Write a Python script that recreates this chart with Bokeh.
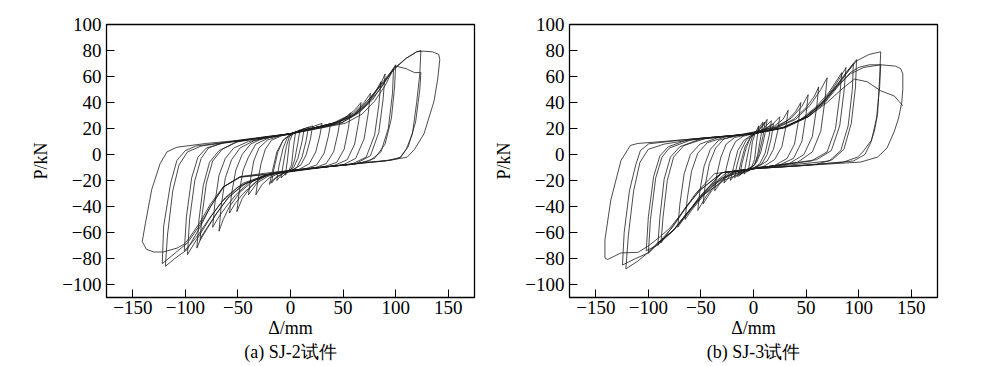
from bokeh.plotting import figure
from bokeh.layouts import row
from bokeh.models import Range1d, FixedTicker
from bokeh.embed import file_html
from bokeh.resources import INLINE

x_ticks = [-150, -100, -50, 0, 50, 100, 150]
y_ticks = [-100, -80, -60, -40, -20, 0, 20, 40, 60, 80, 100]
x_label = "Δ/mm"
y_label = "P/kN"
captions = ["(a) SJ-2试件", "(b) SJ-3试件"]

# SJ-2 hysteresis loops, each a list of (displacement mm, load kN) points
sj2_loops = [
    [(-5, -16), (-3, -5), (-1, 10), (2, 16), (5, 18), (3, 7), (1, -8), (-2, -13), (-5, -16)],
    [(-9, -18), (-7, -8), (-4, 6), (-1, 14), (4, 17), (9, 19), (7, 9), (4, -4), (1, -11), (-3, -13), (-9, -18)],
    [(-13, -20), (-11, -9), (-7, 5), (-3, 13), (3, 16), (8, 18), (13, 20), (11, 10), (7, -3), (3, -10), (-2, -12.5), (-8, -15), (-13, -20)],
    [(-18, -22), (-16, -12), (-12, 2), (-7, 11), (0, 15.5), (8, 18), (17, 21), (15, 11), (11, -2), (6, -10), (0, -12.5), (-8, -15), (-14, -18), (-18, -22)],
    [(-20, -23), (-17, -12), (-13, 2), (-7, 11), (0, 15.5), (10, 19), (21, 22), (19, 12), (15, 0), (10, -8), (2, -12), (-6, -14), (-13, -17), (-17, -20), (-19, -21), (-20, -23)],
    [(-33, -31), (-31, -20), (-28, -7), (-24, 4), (-18, 11), (-8, 14.5), (0, 16), (10, 18), (20, 21), (30, 24), (28, 15), (24, 2), (18, -7), (8, -11.5), (0, -12.3), (-10, -14), (-20, -18), (-27, -23), (-33, -31)],
    [(-40, -31), (-38, -19), (-35, -5), (-30, 5), (-22, 11), (-10, 14.5), (0, 16), (12, 18.5), (25, 21), (38, 23), (36, 14), (32, 1), (25, -8), (14, -11), (0, -12.3), (-12, -14), (-22, -17), (-32, -22), (-40, -31)],
    [(-51, -44), (-49, -30), (-45, -12), (-40, -2), (-33, 8), (-20, 13), (0, 16), (15, 19), (30, 21), (40, 23), (47, 26), (45, 16), (41, 2), (34, -7), (22, -10.5), (0, -12.3), (-15, -14), (-28, -18), (-38, -25), (-46, -34), (-51, -44)],
    [(-58, -45), (-56, -30), (-52, -12), (-46, 0), (-38, 8), (-25, 13), (0, 16), (15, 19), (30, 22), (45, 25), (52, 28), (57, 32), (55, 20), (51, 4), (44, -6), (30, -10), (0, -12.3), (-20, -15), (-33, -21), (-45, -30), (-53, -38), (-58, -45)],
    [(-68, -59), (-66, -40), (-62, -18), (-56, -4), (-48, 5), (-35, 10.5), (-15, 14), (0, 16), (20, 20), (40, 24), (55, 30), (62, 35), (67, 40), (65, 26), (61, 8), (54, -4), (40, -9), (10, -11.5), (-20, -15), (-35, -20), (-48, -29), (-58, -40), (-64, -50), (-68, -59)],
    [(-74, -56), (-72, -38), (-68, -16), (-62, -3), (-54, 5), (-40, 10), (-15, 14), (0, 16), (25, 21), (45, 25), (60, 32), (70, 40), (76, 47), (74, 32), (70, 12), (62, -3), (50, -8), (20, -10.5), (-20, -15), (-40, -22), (-52, -31), (-62, -41), (-69, -49), (-74, -56)],
    [(-89, -72), (-87, -50), (-83, -24), (-77, -6), (-68, 3), (-52, 9.5), (-25, 13), (0, 16), (25, 21), (45, 25), (62, 31), (74, 40), (82, 50), (86, 56), (84, 38), (80, 15), (72, -2), (58, -7.5), (25, -10.2), (-20, -15), (-42, -22), (-58, -32), (-70, -45), (-80, -58), (-86, -66), (-89, -72)],
    [(-86, -66), (-84, -46), (-80, -22), (-74, -5), (-65, 4), (-50, 10), (-25, 13.5), (0, 16), (25, 20), (48, 24), (64, 32), (76, 42), (85, 53), (90, 62), (88, 42), (84, 17), (76, -1), (62, -7), (30, -10), (-20, -15.5), (-45, -23), (-60, -34), (-71, -46), (-79, -56), (-84, -62), (-86, -66)],
    [(-98, -77), (-96, -50), (-91, -20), (-85, -3), (-78, 5), (-65, 9), (-40, 12), (0, 16), (30, 21), (50, 25), (65, 32), (78, 42), (88, 54), (96, 64), (100, 69), (99, 52), (96, 28), (90, 8), (80, -3), (65, -7), (30, -9.8), (-20, -15), (-45, -22), (-62, -33), (-75, -47), (-85, -60), (-92, -69), (-98, -77)],
    [(-101, -74), (-99, -48), (-94, -18), (-88, -2), (-80, 5), (-65, 8.5), (-40, 11.5), (0, 16), (30, 20.5), (52, 24), (68, 31), (80, 41), (90, 53), (98, 66), (97, 47), (93, 20), (86, 2), (75, -5), (55, -8), (20, -10.5), (-25, -16), (-50, -25), (-66, -37), (-78, -50), (-88, -62), (-95, -69), (-101, -74)],
    [(-122, -84), (-120.6, -55), (-114, -22), (-108, -4.5), (-100, 3), (-90, 6.5), (-60, 9.5), (-20, 13.5), (0, 16), (20, 20), (41, 23.5), (60, 31), (73, 41), (85, 53), (98, 66), (110, 74), (120, 79), (124, 80), (123, 62), (120, 40), (116, 16), (110, 4), (105, -2), (95, -4.5), (60, -7.2), (20, -10.6), (-20, -15), (-48, -17.5), (-64, -25), (-76, -40), (-86, -54), (-98, -68), (-110, -76), (-122, -84)],
    [(-119, -86), (-117, -62), (-112, -28), (-106, -8), (-98, 2), (-85, 6.5), (-55, 10), (-20, 13.5), (0, 16), (20, 19.5), (40, 23), (58, 29), (72, 38), (85, 50), (95, 62), (100, 68), (110, 66), (118, 63), (124, 63), (123, 50), (119, 25), (112, 6), (104, -2.5), (90, -5), (60, -7.2), (20, -10.6), (-20, -15), (-47.6, -17.2), (-63.5, -24.9), (-76, -40), (-85.7, -55.4), (-98.4, -73.2), (-110, -80), (-119, -86)],
    [(-141, -67), (-138, -53), (-132, -27), (-124, -7), (-117.5, 2), (-108, 5.6), (-80, 8.5), (-54, 10.5), (-20, 13.5), (0, 15.5), (20, 19.5), (41, 23.5), (60, 30), (73, 41), (85, 52), (98, 65), (110, 74), (120, 79), (126, 79.5), (135, 79), (141, 77), (142, 73), (140, 58), (136.5, 41), (127, 16), (118, 4), (111, -2), (98, -4), (60, -7.2), (20, -10.6), (-20, -14), (-48, -17), (-64, -25), (-76, -38), (-86, -52), (-96, -64), (-101, -69), (-108, -72), (-121, -75), (-130, -75), (-137, -73), (-141, -67)],
]

# SJ-3 hysteresis loops
sj3_loops = [
    [(-5, -13), (-3, -3), (-1, 10), (2, 17), (5, 22), (3, 10), (1, -4), (-2, -10), (-5, -13)],
    [(-9, -15), (-7, -6), (-4, 6), (-1, 14), (4, 19), (9, 25), (7, 14), (4, 0), (1, -8), (-3, -11), (-9, -15)],
    [(-13, -16), (-11, -7), (-7, 5), (-3, 13), (3, 17), (8, 21), (13, 27), (11, 16), (7, 2), (3, -6), (-2, -10), (-8, -12), (-13, -16)],
    [(-18, -18), (-16, -9), (-12, 3), (-7, 11), (0, 16), (8, 19), (17, 26), (15, 15), (11, 1), (6, -7), (0, -10.5), (-8, -12.5), (-14, -15), (-18, -18)],
    [(-22, -20), (-19, -10), (-15, 3), (-9, 11), (0, 16), (10, 19), (19, 24), (17, 13), (13, 0), (8, -7), (0, -10.5), (-8, -12), (-15, -14), (-19, -17), (-22, -20)],
    [(-15, -17), (-12, -6), (-8, 6), (-3, 13), (4, 18), (11, 25), (9, 14), (5, 0), (1, -8), (-5, -11), (-15, -17)],
    [(-28, -22), (-26, -11), (-22, 2), (-17, 10), (-10, 14), (0, 16), (10, 19.5), (18, 23), (25, 29), (23, 18), (19, 4), (13, -5), (5, -9), (-5, -11.5), (-15, -13), (-22, -16), (-28, -22)],
    [(-37, -28), (-35, -16), (-31, -2), (-26, 8), (-18, 13), (-5, 15.5), (10, 19), (20, 22), (28, 27), (33, 34), (31, 22), (27, 6), (20, -4), (10, -9), (-5, -11.5), (-18, -13.5), (-28, -18), (-37, -28)],
    [(-48, -38), (-46, -24), (-42, -7), (-36, 5), (-28, 12), (-12, 15), (5, 18), (20, 21), (32, 26), (40, 33), (45, 40), (43, 27), (39, 8), (32, -3), (20, -8.5), (0, -11), (-18, -13.5), (-30, -20), (-40, -28), (-48, -38)],
    [(-53, -43), (-51, -28), (-47, -9), (-41, 4), (-33, 11), (-15, 15), (5, 18), (22, 21), (36, 28), (46, 37), (52, 46), (50, 31), (46, 10), (38, -3), (25, -8), (0, -10.9), (-20, -13.5), (-35, -22), (-45, -32), (-53, -43)],
    [(-65, -50), (-63, -34), (-59, -13), (-53, 1), (-44, 9), (-25, 14), (0, 16), (20, 20), (38, 27), (50, 36), (58, 45), (62, 52), (60, 36), (56, 14), (48, 0), (34, -7), (0, -10.9), (-22, -13.5), (-38, -23), (-50, -34), (-59, -43), (-65, -50)],
    [(-72, -56), (-70, -38), (-66, -15), (-60, 0), (-51, 8), (-32, 13.5), (0, 16), (22, 20.5), (40, 27), (54, 38), (64, 50), (70, 59), (68, 42), (64, 18), (56, 2), (42, -6), (0, -10.9), (-25, -13.5), (-42, -25), (-55, -38), (-66, -49), (-72, -56)],
    [(-88, -68), (-86, -48), (-82, -20), (-76, -2), (-66, 7), (-45, 12.5), (0, 16), (25, 20), (45, 27), (60, 37), (72, 48), (80, 58), (84, 63), (82, 45), (78, 20), (70, 2), (55, -5), (0, -10.9), (-30, -14), (-50, -27), (-64, -40), (-75, -53), (-83, -62), (-88, -68)],
    [(-91, -70), (-89, -48), (-85, -19), (-79, -2), (-70, 6), (-50, 12), (0, 16), (28, 20.5), (48, 28), (63, 38), (75, 50), (83, 60), (88, 67), (86, 48), (82, 22), (74, 3), (60, -4), (0, -10.9), (-30, -14), (-52, -28), (-66, -43), (-77, -56), (-86, -64), (-91, -70)],
    [(-100, -76), (-98, -50), (-93, -18), (-87, -2), (-80, 5), (-60, 11), (0, 16), (30, 21), (50, 29), (66, 40), (78, 52), (88, 63), (95, 70), (98, 73), (97, 52), (93, 24), (86, 4), (75, -4), (60, -7.5), (0, -10.9), (-30, -14), (-50, -32), (-66, -48), (-76, -58), (-90, -68), (-100, -76)],
    [(-102, -74), (-100, -48), (-95, -17), (-89, -1), (-81, 6), (-62, 11.5), (0, 16), (30, 20.5), (52, 29), (68, 41), (80, 53), (89, 63), (95, 70), (94, 50), (90, 22), (83, 3), (72, -5), (0, -10.9), (-30, -14), (-52, -33), (-67, -50), (-78, -60), (-92, -70), (-102, -74)],
    [(-124.6, -85), (-123, -60), (-118, -28), (-112, -8), (-107.6, 3), (-99.7, 8.2), (-70, 11), (0, 16), (30, 21), (50, 29), (66, 40), (78, 52), (88, 62), (98, 72), (110, 77), (121, 79), (120, 60), (118, 31), (115, 18), (112, 10.8), (104, 2), (99, -2), (85, -6), (40, -8.9), (0, -10.9), (-28, -19.8), (-50, -32.5), (-66, -47.8), (-76, -58), (-91, -68), (-101, -76), (-112, -80), (-124.6, -85)],
    [(-121.4, -88), (-119, -62), (-114, -28), (-108, -6), (-100, 4), (-85, 8), (-50, 12.5), (0, 16), (30, 21), (52, 29), (68, 40), (80, 52), (92, 63), (100, 67), (110, 69), (121, 69), (120, 52), (117, 28), (112, 10), (106, 0), (95, -5), (40, -8.9), (0, -10.9), (-30, -18), (-50, -32.5), (-66, -47.8), (-75.5, -58), (-91, -68), (-100.7, -75.7), (-110, -82), (-121.4, -88)],
    [(0, 16), (30, 21), (52, 30), (68, 42), (80, 53), (92, 62), (105, 67), (121, 69), (135, 68), (140, 66), (142, 62), (142, 50), (141, 40), (138, 28), (134, 18), (127, 5), (118, -2), (102, -5.8), (50, -8.4), (0, -10.9), (-37, -14.7), (-55, -30), (-68, -45), (-80, -57), (-90, -64), (-100.7, -70.7), (-110, -75.3), (-126, -75.7), (-138.8, -80.8), (-141.3, -79.6), (-141.3, -65.6), (-135.7, -35), (-126, -4.5), (-117, 7), (-110, 8.5), (-80, 10.4), (-40, 13.2), (0, 16), (30, 21), (52, 29), (70, 40), (85, 51), (96, 58), (108, 56), (121, 49), (134, 45), (142, 37.5)],
]

FONT = "Liberation Serif"


def fmt(v):
    return str(v).replace("-", "\u2212")


def panel(loops, caption, border_left, border_right):
    p = figure(frame_width=368, frame_height=273,
               x_range=Range1d(-175, 175), y_range=Range1d(-110, 100),
               output_backend="svg", toolbar_location=None,
               min_border_left=border_left, min_border_right=border_right,
               min_border_top=24, min_border_bottom=60,
               background_fill_color="white", border_fill_color="white")
    xs = [[pt[0] for pt in lp] for lp in loops]
    ys = [[pt[1] for pt in lp] for lp in loops]
    p.multi_line(xs, ys, line_color="#1e1e1e", line_width=0.8)
    p.grid.visible = False
    p.outline_line_color = "black"
    p.outline_line_width = 1.3
    for ax, ticks in ((p.xaxis[0], x_ticks), (p.yaxis[0], y_ticks)):
        ax.ticker = FixedTicker(ticks=ticks)
        ax.major_label_overrides = {t: fmt(t) for t in ticks}
        ax.major_tick_in = 8
        ax.major_tick_out = 0
        ax.major_tick_line_color = "black"
        ax.minor_tick_line_color = None
        ax.axis_line_color = "black"
        ax.major_label_text_font = FONT
        ax.major_label_text_font_size = "19px"
        ax.major_label_text_color = "black"
        ax.axis_label_text_font = FONT
        ax.axis_label_text_font_size = "18px"
        ax.axis_label_text_font_style = "normal"
        ax.axis_label_text_color = "black"
    p.xaxis.axis_label = x_label + "\n" + caption
    p.yaxis.axis_label = y_label
    p.xaxis.major_label_standoff = 3
    p.yaxis.major_label_standoff = 5
    p.xaxis.axis_label_standoff = 1
    p.yaxis.axis_label_standoff = 8
    return p


p1 = panel(sj2_loops, captions[0], 106, 16)
p2 = panel(sj3_loops, captions[1], 79, 47)
layout = row(p1, p2)

open("out.html", "w").write(file_html(layout, INLINE))
